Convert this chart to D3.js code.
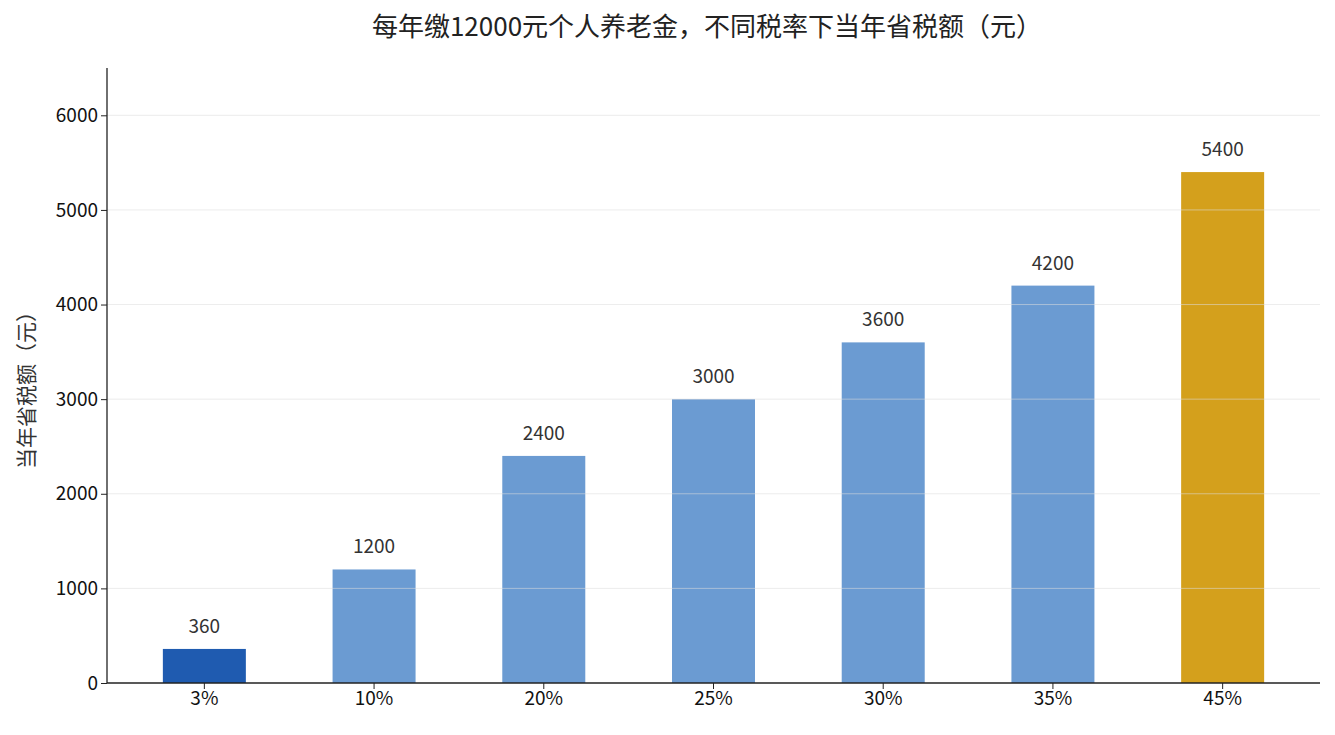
<!DOCTYPE html><html><head><meta charset="utf-8"><script src="https://cdn.jsdelivr.net/npm/d3@7"></script>
<style>body{margin:0;background:#fff}text{font-family:"Noto Sans CJK SC","Noto Sans",sans-serif}</style></head><body>
<svg id="c" width="1335" height="735"></svg>
<script>
const categories=["3%","10%","20%","25%","30%","35%","45%"];
const values=[360,1200,2400,3000,3600,4200,5400];
const colors=["#1f5bb0","#6b9bd2","#6b9bd2","#6b9bd2","#6b9bd2","#6b9bd2","#d4a01c"];
const yTicks=[0,1000,2000,3000,4000,5000,6000];
const svg=d3.select("#c");
const L=107,R=1320,T=68,B=683;
const x=d3.scaleBand().domain(categories).range([L+12.5,R-12.5]).padding(0);
const y=d3.scaleLinear().domain([0,6500]).range([B,T]);
const bw=83;
svg.selectAll("rect.b").data(values).join("rect").attr("x",(d,i)=>x(categories[i])+x.bandwidth()/2-bw/2)
 .attr("y",d=>y(d)).attr("width",bw).attr("height",d=>B-y(d)).attr("fill",(d,i)=>colors[i]);
svg.selectAll("line.g").data(yTicks.slice(1)).join("line").attr("x1",L).attr("x2",R).attr("y1",d=>y(d)).attr("y2",d=>y(d))
 .attr("stroke","#ddd").attr("stroke-opacity",0.55).attr("stroke-width",1);
svg.selectAll("text.v").data(values).join("text").attr("x",(d,i)=>x(categories[i])+x.bandwidth()/2).attr("y",d=>y(d)-16)
 .attr("text-anchor","middle").attr("font-size",19).attr("fill","#333").text(d=>d);
const ya=svg.append("g").attr("transform",`translate(${L},0)`).call(d3.axisLeft(y).tickValues(yTicks).tickSize(6).tickFormat(d3.format("d")));
const xa=svg.append("g").attr("transform",`translate(0,${B})`).call(d3.axisBottom(x).tickSize(6));
[ya,xa].forEach(a=>{a.selectAll("text").attr("font-size",19).attr("fill","#111");a.select(".domain").attr("stroke","#222").attr("stroke-width",1.3);a.selectAll(".tick line").attr("stroke","#222");});
ya.select(".domain").attr("d",`M-0,${B}V${T}`);
xa.select(".domain").attr("d",`M${L},0H${R}`);
svg.append("text").attr("x",707).attr("y",36).attr("text-anchor","middle").attr("font-size",26).attr("fill","#222").text("每年缴12000元个人养老金，不同税率下当年省税额（元）");
svg.append("text").attr("transform",`translate(34,385) rotate(-90)`).attr("text-anchor","middle").attr("font-size",21).attr("fill","#333").text("当年省税额（元）");
</script></body></html>
